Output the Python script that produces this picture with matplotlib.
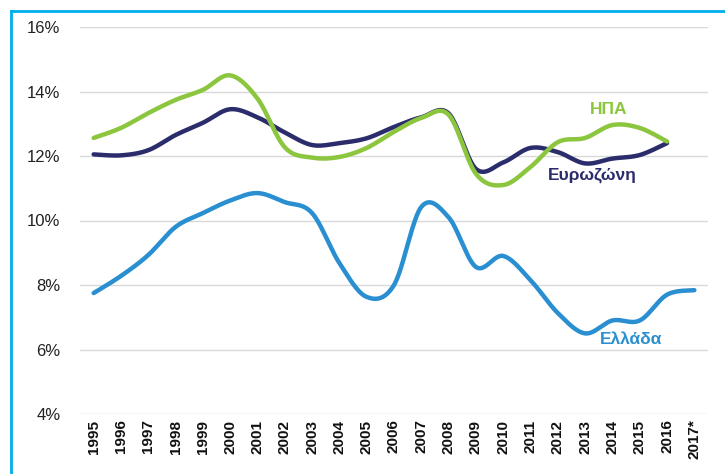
import matplotlib
matplotlib.use("Agg")
import matplotlib.pyplot as plt
from matplotlib.lines import Line2D
import numpy as np

plt.rcParams['font.family'] = ['Liberation Sans', 'DejaVu Sans']

years = ['1995', '1996', '1997', '1998', '1999', '2000', '2001', '2002', '2003', '2004',
         '2005', '2006', '2007', '2008', '2009', '2010', '2011', '2012', '2013', '2014',
         '2015', '2016', '2017*']

usa = [12.56, 12.87, 13.33, 13.74, 14.05, 14.5, 13.78, 12.27, 11.95, 11.97,
       12.25, 12.75, 13.18, 13.28, 11.45, 11.1, 11.66, 12.43, 12.56, 12.96,
       12.87, 12.45]
eurozone = [12.05, 12.02, 12.18, 12.65, 13.03, 13.45, 13.2, 12.73, 12.34, 12.4,
            12.55, 12.9, 13.2, 13.32, 11.6, 11.8, 12.25, 12.12, 11.77, 11.92,
            12.03, 12.4]
greece = [7.75, 8.28, 8.93, 9.8, 10.23, 10.62, 10.85, 10.57, 10.23, 8.68,
          7.63, 8.0, 10.42, 10.1, 8.56, 8.9, 8.15, 7.13, 6.5, 6.9,
          6.9, 7.7, 7.84]

series_labels = ['ΗΠΑ', 'Ευρωζώνη', 'Ελλάδα']
colors = ['#8CC63F', '#2B2C6C', '#2A8FD0']
yticks = [4, 6, 8, 10, 12, 14, 16]


def smooth(xs, ys, n=30):
    xs = np.asarray(xs, float)
    ys = np.asarray(ys, float)
    P = np.column_stack([xs, ys])
    P = np.vstack([P[0], P, P[-1]])
    out = []
    for i in range(1, len(P) - 2):
        p0, p1, p2, p3 = P[i - 1], P[i], P[i + 1], P[i + 2]
        c1 = p1 + (p2 - p0) / 6.0
        c2 = p2 - (p3 - p1) / 6.0
        t = np.linspace(0, 1, n)[:, None]
        b = ((1 - t) ** 3) * p1 + 3 * ((1 - t) ** 2) * t * c1 + 3 * (1 - t) * t ** 2 * c2 + t ** 3 * p2
        out.append(b if i == 1 else b[1:])
    B = np.vstack(out)
    return B[:, 0], B[:, 1]


fig = plt.figure(figsize=(7.25, 4.74), dpi=100)
ax = fig.add_axes([80 / 725, 1 - 414 / 474, 628 / 725, 387 / 474])

for vals, col in zip([greece, eurozone, usa], [colors[2], colors[1], colors[0]]):
    x = np.arange(len(vals))
    sx, sy = smooth(x, vals)
    ax.plot(sx, sy, color=col, lw=3.2, solid_capstyle='round', zorder=3)

ax.set_xlim(-0.5, len(years) - 0.5)
ax.set_ylim(4, 16)
ax.set_yticks(yticks)
ax.set_yticklabels([f'{v}%' for v in yticks], fontsize=12, color='#222222')
ax.set_xticks(np.arange(len(years)))
ax.set_xticklabels(years, rotation=90, fontsize=11, fontweight='bold', color='#111111')
ax.tick_params(axis='both', length=0)
ax.tick_params(axis='y', pad=14)
ax.tick_params(axis='x', pad=4)
ax.grid(axis='y', color='#D9D9D9', lw=1)
ax.set_axisbelow(True)
for s in ax.spines.values():
    s.set_visible(False)

ax.text(18.85, 13.43, series_labels[0], color=colors[0], fontsize=12.5, fontweight='bold',
        ha='center', va='center')
ax.text(18.25, 11.4, series_labels[1], color=colors[1], fontsize=12.5, fontweight='bold',
        ha='center', va='center')
ax.text(19.7, 6.3, series_labels[2], color=colors[2], fontsize=12.5, fontweight='bold',
        ha='center', va='center')

# frame border (left and top)
fig.add_artist(Line2D([10.5 / 725, 10.5 / 725], [0, 1 - 11 / 474], transform=fig.transFigure,
                      color='#00AEEF', lw=2))
fig.add_artist(Line2D([10.5 / 725, 1], [1 - 11 / 474, 1 - 11 / 474], transform=fig.transFigure,
                      color='#00AEEF', lw=2))

fig.savefig('out.png', dpi=100)
